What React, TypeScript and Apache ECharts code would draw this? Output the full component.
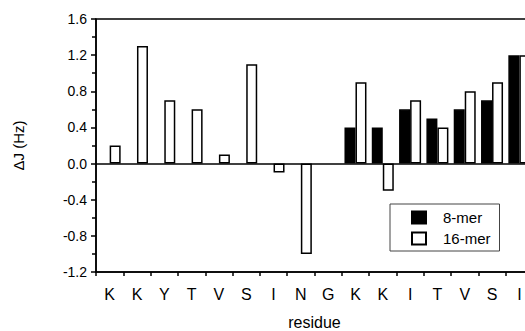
import React, { useEffect, useRef } from "react";
import * as echarts from "echarts";

const residues = ["K", "K", "Y", "T", "V", "S", "I", "N", "G", "K", "K", "I", "T", "V", "S", "I"];
const mer8: (number | null)[] = [null, null, null, null, null, null, null, null, null, 0.4, 0.4, 0.6, 0.5, 0.6, 0.7, 1.2];
const mer16: (number | null)[] = [0.2, 1.3, 0.7, 0.6, 0.1, 1.1, -0.1, -1.0, null, 0.9, -0.3, 0.7, 0.4, 0.8, 0.9, 1.2];
const yTicks = { min: -1.2, max: 1.6, interval: 0.4 };

const FONT = "'Liberation Sans', Arial, Helvetica, sans-serif";

export default function App() {
  const ref = useRef<HTMLDivElement>(null);
  useEffect(() => {
    if (!ref.current) return;
    const chart = echarts.init(ref.current, null, { renderer: "svg" });
    chart.setOption({
      animation: false,
      backgroundColor: "#fff",
      textStyle: { fontFamily: FONT, color: "#000" },
      grid: {
        left: 96,
        top: 19,
        width: 437,
        bottom: 59,
        outerBoundsMode: "none",
        containLabel: false,
        show: true,
        borderColor: "#000",
        borderWidth: 1.5,
        backgroundColor: "transparent",
      },
      legend: {
        orient: "vertical",
        left: 390,
        top: 204,
        data: ["8-mer", "16-mer"],
        backgroundColor: "#fff",
        borderColor: "#444",
        borderWidth: 1,
        padding: [6, 9, 5, 21],
        itemGap: 6,
        itemWidth: 14,
        itemHeight: 12,
        icon: "rect",
        textStyle: { fontFamily: FONT, fontSize: 15, color: "#000", padding: [0, 0, 0, 12] },
      },
      xAxis: {
        type: "category",
        data: residues,
        name: "residue",
        nameLocation: "middle",
        nameGap: 42,
        nameTextStyle: { fontFamily: FONT, fontSize: 16, color: "#000" },
        axisLine: { onZero: false, lineStyle: { color: "#000", width: 1.5 } },
        axisTick: { show: true, length: 4, lineStyle: { color: "#000", width: 1.5 } },
        axisLabel: { fontFamily: FONT, fontSize: 16, color: "#000", margin: 14 },
        splitLine: { show: false },
      },
      yAxis: {
        type: "value",
        min: yTicks.min,
        max: yTicks.max,
        interval: yTicks.interval,
        name: "ΔJ (Hz)",
        nameLocation: "middle",
        nameRotate: 90,
        nameGap: 70,
        nameTextStyle: { fontFamily: FONT, fontSize: 15, color: "#000" },
        axisLine: { show: true, lineStyle: { color: "#000", width: 1.5 } },
        axisTick: { show: true, length: 5, lineStyle: { color: "#000", width: 1.5 } },
        minorTick: { show: true, splitNumber: 2, length: 4, lineStyle: { color: "#000", width: 1.5 } },
        axisLabel: {
          fontFamily: FONT,
          fontSize: 14,
          color: "#000",
          margin: 9,
          formatter: (v: number) => v.toFixed(1),
        },
        splitLine: { show: false },
      },
      series: [
        {
          name: "8-mer",
          type: "bar",
          data: mer8,
          barWidth: 11,
          barGap: "0%",
          itemStyle: { color: "#000", borderColor: "#000", borderWidth: 1.5 },
          markLine: {
            silent: true,
            symbol: "none",
            label: { show: false },
            lineStyle: { color: "#000", width: 1.5, type: "solid" },
            data: [{ yAxis: 0 }],
          },
        },
        {
          name: "16-mer",
          type: "bar",
          data: mer16,
          barWidth: 11,
          barGap: "0%",
          itemStyle: { color: "#fff", borderColor: "#000", borderWidth: 1.5 },
        },
      ],
    });
    return () => chart.dispose();
  }, []);
  return <div ref={ref} style={{ width: 525, height: 331, position: "absolute", left: 0, top: 0 }} />;
}
